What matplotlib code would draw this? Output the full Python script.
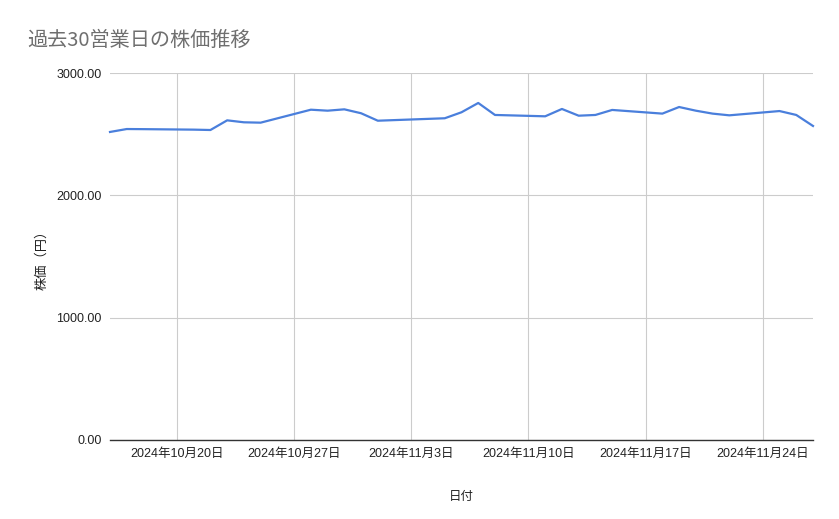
import matplotlib
matplotlib.use("Agg")
import matplotlib.pyplot as plt
import matplotlib.dates as mdates
from matplotlib.ticker import FuncFormatter, FixedLocator
import datetime as dt

plt.rcParams['font.family'] = ['Liberation Sans', 'Noto Sans CJK JP', 'DejaVu Sans']

title = "過去30営業日の株価推移"
x_label = "日付"
y_label = "株価（円）"

dates = [
    "2024-10-16", "2024-10-17", "2024-10-18", "2024-10-21", "2024-10-22",
    "2024-10-23", "2024-10-24", "2024-10-25", "2024-10-28", "2024-10-29",
    "2024-10-30", "2024-10-31", "2024-11-01", "2024-11-05", "2024-11-06",
    "2024-11-07", "2024-11-08", "2024-11-11", "2024-11-12", "2024-11-13",
    "2024-11-14", "2024-11-15", "2024-11-18", "2024-11-19", "2024-11-20",
    "2024-11-21", "2024-11-22", "2024-11-25", "2024-11-26", "2024-11-27",
]
prices = [
    2518, 2542, 2541, 2537, 2534,
    2613, 2597, 2594, 2700, 2692,
    2703, 2671, 2610, 2630, 2679,
    2755, 2657, 2646, 2706, 2651,
    2657, 2698, 2668, 2722, 2692,
    2668, 2654, 2689, 2657, 2567,
]
tick_dates = ["2024-10-20", "2024-10-27", "2024-11-03", "2024-11-10", "2024-11-17", "2024-11-24"]
y_ticks = [0, 1000, 2000, 3000]

xd = [dt.datetime.strptime(d, "%Y-%m-%d") for d in dates]
td = [dt.datetime.strptime(d, "%Y-%m-%d") for d in tick_dates]

fig = plt.figure(figsize=(8.39, 5.19), dpi=100)
ax = fig.add_axes([110/839, 1-440/519, (813-110)/839, (440-73)/519])

ax.plot(xd, prices, color='#4a7fdc', lw=1.6, solid_joinstyle='round', clip_on=False, zorder=3)

ax.set_xlim(xd[0], xd[-1])
ax.set_ylim(0, 3000)
ax.xaxis.set_major_locator(FixedLocator(mdates.date2num(td)))
ax.xaxis.set_major_formatter(FuncFormatter(
    lambda v, p: (lambda d: f"{d.year}年{d.month}月{d.day}日")(mdates.num2date(v))))
ax.set_yticks(y_ticks)
ax.yaxis.set_major_formatter(FuncFormatter(lambda v, p: f"{v:.2f}"))

ax.grid(True, color='#cccccc', lw=0.8)
ax.set_axisbelow(True)
for s in ['top', 'right', 'left']:
    ax.spines[s].set_visible(False)
ax.spines['bottom'].set_color('#333333')
ax.spines['bottom'].set_linewidth(1.0)
ax.tick_params(axis='both', length=0, labelsize=9, colors='#222222')
ax.tick_params(axis='x', pad=6)
ax.tick_params(axis='y', pad=6)

ax.set_xlabel(x_label, fontsize=9, color='#222222', labelpad=22)
ax.set_ylabel(y_label, fontsize=9.5, color='#222222', labelpad=6)

fig.text(27/839, 1-40/519, title, fontsize=14.5, color='#6f6f6f', ha='left', va='center',
         family=['Noto Sans CJK JP', 'DejaVu Sans'])

fig.savefig("out.png", dpi=100, facecolor='white')
